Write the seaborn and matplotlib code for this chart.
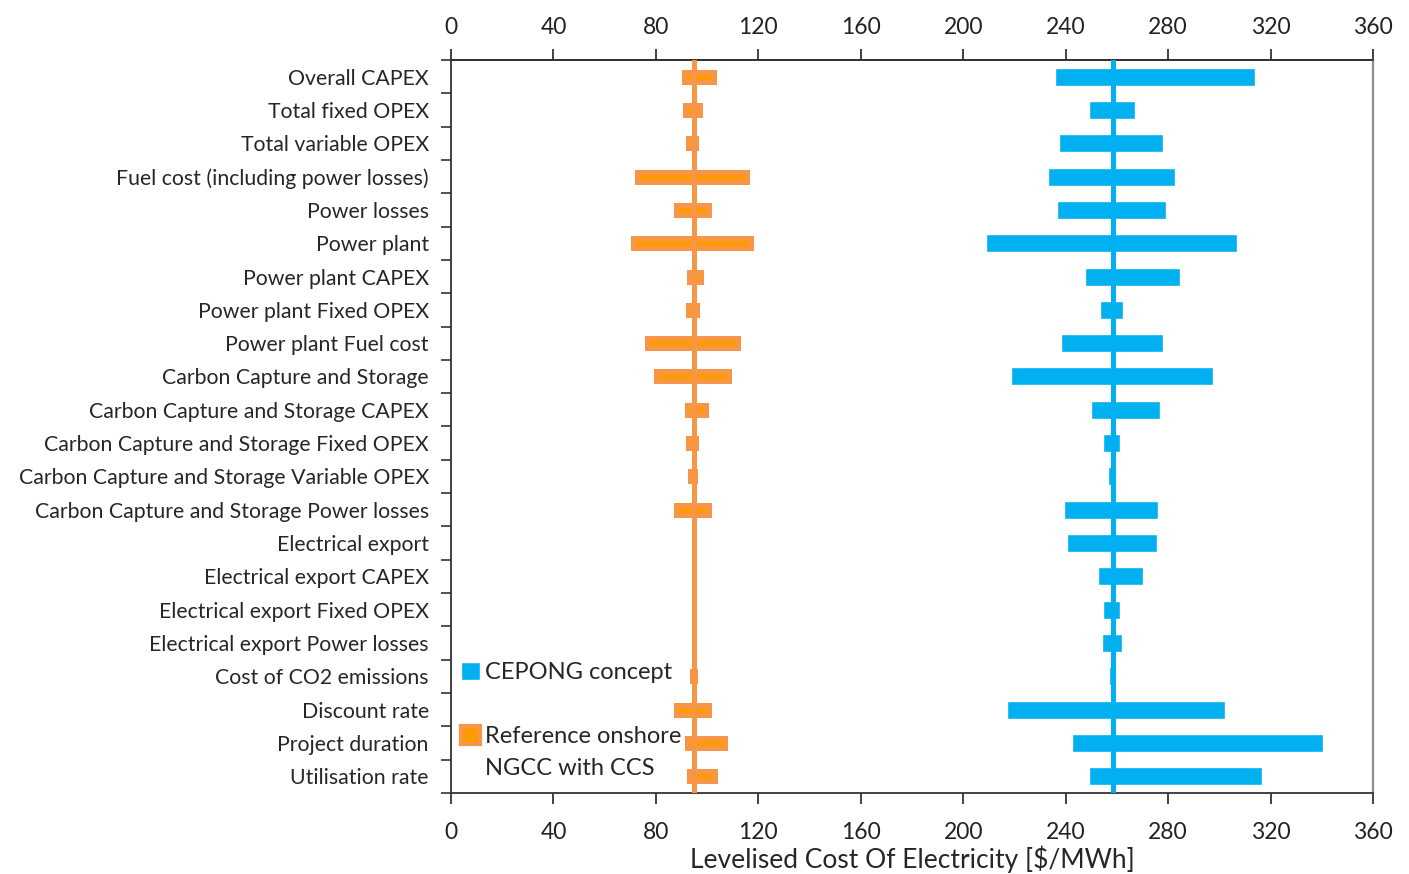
import numpy as np
import matplotlib.pyplot as plt
import seaborn as sns
from matplotlib.patches import Patch
from matplotlib.ticker import FixedLocator

sns.set_style("white")
plt.rcParams['font.family'] = ['Lato', 'DejaVu Sans']

categories = ["Overall CAPEX", "Total fixed OPEX", "Total variable OPEX",
              "Fuel cost (including power losses)", "Power losses", "Power plant",
              "Power plant CAPEX", "Power plant Fixed OPEX", "Power plant Fuel cost",
              "Carbon Capture and Storage", "Carbon Capture and Storage CAPEX",
              "Carbon Capture and Storage Fixed OPEX",
              "Carbon Capture and Storage Variable OPEX",
              "Carbon Capture and Storage Power losses", "Electrical export",
              "Electrical export CAPEX", "Electrical export Fixed OPEX",
              "Electrical export Power losses", "Cost of CO2 emissions",
              "Discount rate", "Project duration", "Utilisation rate"]

x_ticks = [0, 40, 80, 120, 160, 200, 240, 280, 320, 360]

# CEPONG concept (low / high LCOE per sensitivity)
cep_base = 258.6
cep_low = [236, 249, 237.5, 233, 236.5, 209, 247.5, 253.5, 238, 218.5, 250,
           254.5, 256.5, 239.5, 240.5, 252.5, 254.5, 254, 257, 217, 242.5, 249]
cep_high = [314, 267, 278, 282.5, 279, 307, 284.5, 262.5, 278, 297.5, 277,
            261, 259.2, 276, 275.5, 270, 261, 262, 259.2, 302, 340.5, 316.5]

# Reference onshore NGCC with CCS
ref_base = 95.0
ref_low = [91, 91.2, 92.7, 72.8, 87.7, 71.1, 92.9, 92.5, 76.5, 79.9, 92.3,
           92.7, 93.5, 87.7, np.nan, np.nan, np.nan, np.nan, 94, 87.8, 92, 93]
ref_high = [102.7, 97.2, 95.7, 115.6, 100.7, 117.3, 97.6, 95.9, 111.9, 108.5, 99.4,
            95.7, 95.3, 100.7, np.nan, np.nan, np.nan, np.nan, 95.3, 100.9, 106.9, 103.2]

legend_labels = ["CEPONG concept", "", "Reference onshore", "NGCC with CCS"]

blue = "#00B0F0"
orange_fill = "#FF9A00"
orange_edge = "#F79646"

n = len(categories)
y = np.arange(n)
cl, ch = np.array(cep_low), np.array(cep_high)
rl, rh = np.array(ref_low), np.array(ref_high)
m = ~np.isnan(rl)

fig, ax = plt.subplots(figsize=(14.09, 8.74), dpi=100)
fig.subplots_adjust(left=0.3201, right=0.9745, bottom=0.0927, top=0.9314)

ax.barh(y, ch - cl, left=cl, height=0.54, color=blue, zorder=2)
ax.barh(y[m], rh[m] - rl[m], left=rl[m], height=0.3, color=orange_fill,
        edgecolor=orange_edge, linewidth=3.6, zorder=2)
ax.axvline(cep_base, color=blue, lw=3.6, zorder=3)
ax.axvline(ref_base, color=orange_edge, lw=3.6, zorder=3)

ax.set_xlim(0, 360)
ax.set_ylim(n - 0.5, -0.5)
ax.xaxis.set_major_locator(FixedLocator(x_ticks))
ax.tick_params(axis='x', bottom=True, labelbottom=True, top=False,
               direction='out', length=8, width=1.2, pad=13, labelsize=16.5,
               colors='#222222')
top = ax.secondary_xaxis('top')
top.xaxis.set_major_locator(FixedLocator(x_ticks))
top.tick_params(axis='x', direction='out', length=8, width=1.2, pad=8,
                labelsize=16.5, colors='#222222')
top.spines['top'].set_color('#333333')
top.spines['top'].set_linewidth(1.3)

ax.set_yticks(y)
ax.set_yticklabels(categories)
ax.yaxis.set_minor_locator(FixedLocator(np.arange(n + 1) - 0.5))
ax.tick_params(axis='y', which='major', length=0, pad=16, labelsize=15.3)
ax.tick_params(axis='y', which='minor', left=True, length=7, width=1.2,
               direction='out', color='#333333')
ax.set_xlabel("Levelised Cost Of Electricity [$/MWh]", fontsize=19, labelpad=2)

for side in ['top', 'bottom', 'left']:
    ax.spines[side].set_color('#333333')
    ax.spines[side].set_linewidth(1.3)
ax.spines['right'].set_color('#8c8c8c')
ax.spines['right'].set_linewidth(1.6)

invisible = Patch(facecolor='none', edgecolor='none')
handles = [Patch(facecolor=blue), invisible,
           Patch(facecolor=orange_fill, edgecolor=orange_edge, linewidth=3),
           invisible]
ax.legend(handles, legend_labels,
          loc='lower left', bbox_to_anchor=(-0.004, 0.0), frameon=False,
          fontsize=17, handlelength=0.8, handleheight=0.8, handletextpad=0.2,
          labelspacing=0.45, borderaxespad=0.5, borderpad=0.1)

fig.savefig("out.png", dpi=100)
